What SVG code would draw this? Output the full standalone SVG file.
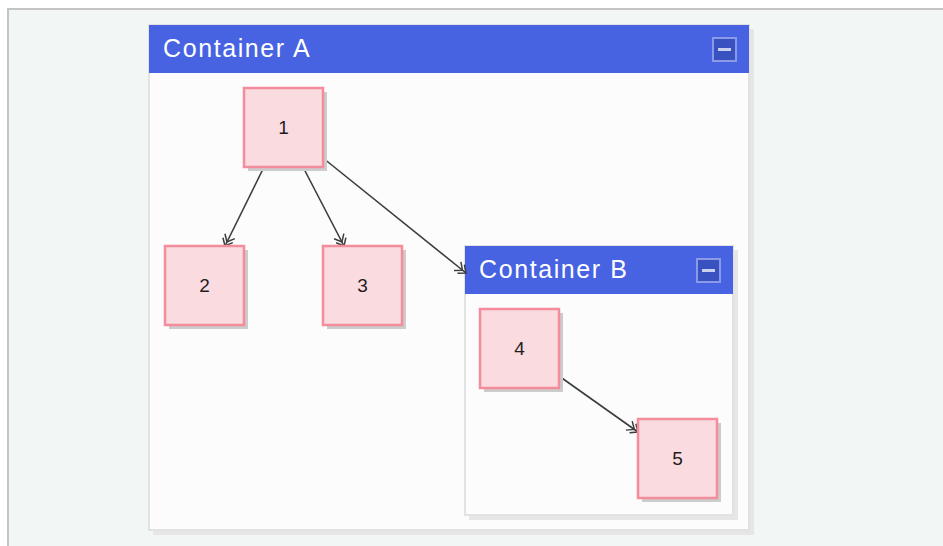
<svg xmlns="http://www.w3.org/2000/svg" width="943" height="546" viewBox="0 0 943 546">
  <defs>
    <style>
      .frame { fill: #f2f6f5; stroke: #c4c4c4; stroke-width: 2; }
      .cont-body { fill: #fcfcfc; stroke: #e2e2e2; stroke-width: 2; }
      .cont-shadow { fill: #e6e6e6; }
      .cont-head { fill: #4763e2; }
      .cont-title { font-family: "Liberation Sans", Arial, sans-serif; font-size: 25px; letter-spacing: 1.6px; fill: #ffffff; }
      .btn { fill: #3a52bf; stroke: #8a9ae8; stroke-width: 2; }
      .btn-minus { stroke: #c9d0f0; stroke-width: 3; }
      .node-shadow { fill: #cccccc; }
      .node-box { fill: #fadbdf; stroke: #f48c9c; stroke-width: 2.5; }
      .node-label { font-family: "Liberation Sans", Arial, sans-serif; font-size: 19px; fill: #1e1e1e; text-anchor: middle; }
      .edge { stroke: #3c3c3c; stroke-width: 1.6; fill: none; marker-end: url(#dblArrow); }
    </style>
    <!-- doubled open chevron arrowhead -->
    <marker id="dblArrow" viewBox="0 0 15 14" refX="14" refY="7" markerWidth="15" markerHeight="14" markerUnits="userSpaceOnUse" orient="auto">
      <polyline points="3,1.5 9.5,7 3,12.5" fill="none" stroke="#3c3c3c" stroke-width="1.5"/>
      <polyline points="7.5,1.5 14,7 7.5,12.5" fill="none" stroke="#3c3c3c" stroke-width="1.5"/>
    </marker>
  </defs>

  <!-- page -->
  <rect x="0" y="0" width="943" height="546" fill="#ffffff"/>
  <rect class="frame" x="8" y="9" width="950" height="550"/>

  <!-- Container A -->
  <g id="containerA">
    <rect class="cont-shadow" x="153" y="29" width="601" height="506"/>
    <rect class="cont-body" x="149" y="25" width="600" height="505"/>
    <rect class="cont-head" x="149" y="25" width="600" height="48"/>
    <text class="cont-title" x="163" y="57">Container A</text>
    <rect class="btn" x="713" y="38" width="23" height="23"/>
    <line class="btn-minus" x1="718" y1="49.5" x2="731" y2="49.5"/>
  </g>

  <!-- Container B -->
  <g id="containerB">
    <rect class="cont-shadow" x="469" y="250" width="269" height="270"/>
    <rect class="cont-body" x="465" y="246" width="268" height="269"/>
    <rect class="cont-head" x="465" y="246" width="268" height="48"/>
    <text class="cont-title" x="479" y="278">Container B</text>
    <rect class="btn" x="697" y="259" width="23" height="23"/>
    <line class="btn-minus" x1="702" y1="270.5" x2="715" y2="270.5"/>
  </g>

  <!-- connectors -->
  <g id="connectors">
    <line class="edge" x1="264" y1="167" x2="225" y2="246"/>
    <line class="edge" x1="303" y1="167" x2="344" y2="246"/>
    <line class="edge" x1="323" y1="158" x2="466" y2="273"/>
    <line class="edge" x1="559" y1="376" x2="638" y2="432"/>
  </g>

  <!-- nodes -->
  <g id="node1">
    <rect class="node-shadow" x="248" y="92" width="79" height="79"/>
    <rect class="node-box" x="244" y="88" width="79" height="79"/>
    <text class="node-label" x="283.5" y="134">1</text>
  </g>
  <g id="node2">
    <rect class="node-shadow" x="169" y="250" width="79" height="79"/>
    <rect class="node-box" x="165" y="246" width="79" height="79"/>
    <text class="node-label" x="204.5" y="292">2</text>
  </g>
  <g id="node3">
    <rect class="node-shadow" x="327" y="250" width="79" height="79"/>
    <rect class="node-box" x="323" y="246" width="79" height="79"/>
    <text class="node-label" x="362.5" y="292">3</text>
  </g>
  <g id="node4">
    <rect class="node-shadow" x="484" y="313" width="79" height="79"/>
    <rect class="node-box" x="480" y="309" width="79" height="79"/>
    <text class="node-label" x="519.5" y="355">4</text>
  </g>
  <g id="node5">
    <rect class="node-shadow" x="642" y="423" width="79" height="79"/>
    <rect class="node-box" x="638" y="419" width="79" height="79"/>
    <text class="node-label" x="677.5" y="465">5</text>
  </g>
</svg>
